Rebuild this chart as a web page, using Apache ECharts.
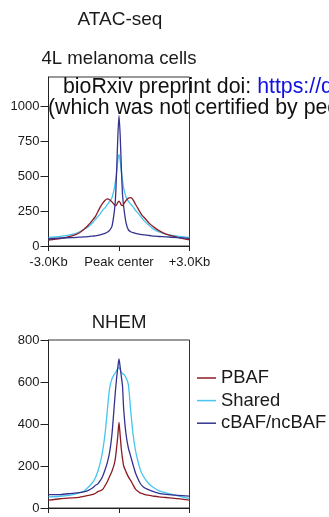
<!DOCTYPE html>
<html><head><meta charset="utf-8">
<script src="https://cdn.jsdelivr.net/npm/echarts@6/dist/echarts.min.js"></script>
<style>html,body{margin:0;padding:0;background:#fff;overflow:hidden}#c{width:329px;height:517px}</style>
</head><body><div id="c"></div>
<script>
// distance from peak center, kb
const positions = [-3.0,-2.5,-2.0,-1.7,-1.5,-1.3,-1.1,-1.0,-0.9,-0.8,-0.7,-0.6,-0.5,-0.4,-0.3,-0.2,-0.15,-0.1,-0.05,0,0.05,0.1,0.15,0.2,0.3,0.4,0.5,0.6,0.7,0.8,0.9,1.0,1.1,1.3,1.5,1.7,2.0,2.5,3.0];

// 4L melanoma cells
const melPBAF  = [43,52,72,93,118,150,190,212,245,278,305,325,336,330,315,295,288,295,312,321,310,292,288,300,325,342,345,330,298,270,240,215,198,160,133,110,85,62,43];
const melShared= [62,68,83,100,118,138,170,190,210,230,255,272,295,318,345,412,465,530,610,655,612,531,465,412,350,318,298,280,255,237,215,195,174,145,117,100,84,70,60];
const melCBAF  = [50,57,60,63,65,67,71,73,76,80,85,90,98,112,140,245,340,540,780,931,790,560,370,280,165,115,102,95,90,86,83,81,79,75,70,68,65,60,55];

// NHEM
const nhemPBAF  = [37,44,48,51,55,60,65,70,78,82,88,105,125,150,175,210,240,290,345,408,345,280,235,200,172,148,130,110,90,80,72,68,64,60,56,53,50,45,37];
const nhemShared= [53,56,63,72,80,100,125,145,175,215,270,347,460,570,615,637,645,655,665,668,660,645,640,637,620,586,460,350,275,225,185,158,140,112,95,82,72,58,45];
const nhemCBAF  = [64,64,70,73,77,84,98,108,115,130,150,180,215,265,350,490,560,620,670,710,670,625,580,470,350,285,245,205,168,140,118,104,95,85,77,70,65,60,57];

const seriesNames = ['PBAF','Shared','cBAF/ncBAF'];
const xTickValues = [-3, 0, 3];
const xTickLabels = ['-3.0Kb','Peak center','+3.0Kb'];
const melYTicks = [0,250,500,750,1000];
const nhemYTicks = [0,200,400,600,800];
const titles = ['ATAC-seq','4L melanoma cells','NHEM'];

const colors = {'PBAF':'#8c1c24','Shared':'#47c4f0','cBAF/ncBAF':'#33338f'};
const FONT = 'Liberation Sans, Arial, sans-serif';
const pair = vals => positions.map((p,i)=>[p, vals[i]]);

function axisX(gi, showLabels){
  return {
    type:'value', gridIndex:gi, min:-3, max:3, interval:3,
    axisLine:{show:true, onZero:false, lineStyle:{color:'#222', width:1}},
    axisTick:{show:true, length:5, lineStyle:{color:'#222'}},
    splitLine:{show:false},
    axisLabel:{show:showLabels, margin:10, fontSize:13, color:'#1a1a1a', fontFamily:FONT,
      formatter: v => { const k = xTickValues.indexOf(v); return k>=0 ? xTickLabels[k] : ''; }}
  };
}
function axisY(gi, max, interval, ticks){
  return {
    type:'value', gridIndex:gi, min:0, max:max, interval:interval,
    axisLine:{show:true, onZero:false, lineStyle:{color:'#222', width:1}},
    axisTick:{show:true, length:8, customValues:ticks, lineStyle:{color:'#222'}},
    splitLine:{show:false},
    axisLabel:{margin:9, fontSize:13, color:'#1a1a1a', fontFamily:FONT, customValues:ticks,
      formatter: v => ticks.indexOf(v)>=0 ? String(v) : ''}
  };
}
function line(name, gi, vals){
  return {
    name, type:'line', xAxisIndex:gi, yAxisIndex:gi, data:pair(vals),
    symbol:'none', smooth:0.25, clip:true,
    lineStyle:{color:colors[name], width:1.3}, itemStyle:{color:colors[name]},
    emphasis:{disabled:true}, animation:false
  };
}

const chart = echarts.init(document.getElementById('c'), null, {renderer:'canvas'});
chart.setOption({
  animation:false,
  backgroundColor:'#fff',
  grid:[
    {left:48.5, top:77, width:141, height:169, show:true, borderColor:'#333', borderWidth:1, backgroundColor:'transparent'},
    {left:48.5, top:340, width:141, height:168, show:true, borderColor:'#333', borderWidth:1, backgroundColor:'transparent'}
  ],
  xAxis:[axisX(0,true), axisX(1,false)],
  yAxis:[axisY(0,1207,250,melYTicks), axisY(1,800,200,nhemYTicks)],
  legend:{
    data:seriesNames.map(n=>({name:n, icon:'rect'})), orient:'vertical', left:197, top:369, padding:0,
    itemWidth:19, itemHeight:1.5, itemGap:4.6, selectedMode:false,
    textStyle:{fontSize:18.4, color:'#1a1a1a', fontFamily:FONT, lineHeight:18, padding:[0,0,0,0]}
  },
  series:[
    line('Shared',0,melShared), line('PBAF',0,melPBAF), line('cBAF/ncBAF',0,melCBAF),
    line('Shared',1,nhemShared), line('PBAF',1,nhemPBAF), line('cBAF/ncBAF',1,nhemCBAF)
  ],
  graphic:[
    {type:'text', x:120, y:20, style:{text:titles[0], fontSize:19, fontFamily:FONT, fill:'#1a1a1a', align:'center', verticalAlign:'middle'}},
    {type:'text', x:119, y:59, style:{text:titles[1], fontSize:18.6, fontFamily:FONT, fill:'#1a1a1a', align:'center', verticalAlign:'middle'}},
    {type:'text', x:119, y:323, style:{text:titles[2], fontSize:18.6, fontFamily:FONT, fill:'#1a1a1a', align:'center', verticalAlign:'middle'}},
    {type:'text', x:63, y:87.5, z:100, style:{text:'{a|bioRxiv preprint doi: }{b|https://doi.org/10.1101/2023}', fontFamily:FONT, align:'left', verticalAlign:'middle',
      rich:{a:{fontSize:21.3, fill:'#111', fontFamily:FONT}, b:{fontSize:21.3, fill:'#1010e0', fontFamily:FONT}}}},
    {type:'text', x:48, y:108, z:100, style:{text:'(which was not certified by peer review) is the author/funder', fontSize:21.3, fontFamily:FONT, fill:'#111', align:'left', verticalAlign:'middle'}}
  ]
});
</script>
</body></html>
